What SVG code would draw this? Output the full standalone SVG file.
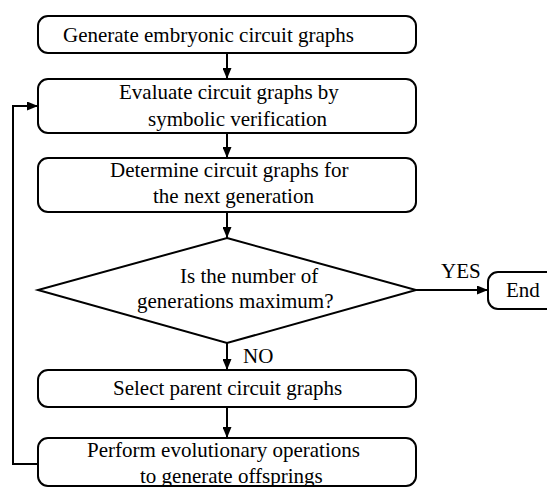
<svg xmlns="http://www.w3.org/2000/svg" width="547" height="487" viewBox="0 0 547 487">
<style>
.box{fill:#fff;stroke:#000;stroke-width:2}
.t{font-family:"Liberation Serif","Times New Roman",serif;font-size:21px;fill:#000}
.c{fill:none;stroke:#000;stroke-width:2}
</style>
<defs>
<marker id="ah" markerWidth="11" markerHeight="9" refX="11" refY="4.5" orient="auto" markerUnits="userSpaceOnUse">
<path d="M0,0 L11,4.5 L0,9 Z" fill="#000"/>
</marker>
</defs>
<rect width="547" height="487" fill="#fff"/>
<g id="connectors">
<line class="c" x1="227" y1="53" x2="227" y2="79" marker-end="url(#ah)"/>
<line class="c" x1="227" y1="133" x2="227" y2="158" marker-end="url(#ah)"/>
<line class="c" x1="227" y1="212" x2="227" y2="238" marker-end="url(#ah)"/>
<line class="c" x1="227" y1="343" x2="227" y2="370" marker-end="url(#ah)"/>
<line class="c" x1="227" y1="407" x2="227" y2="438" marker-end="url(#ah)"/>
<line class="c" x1="416" y1="290" x2="488" y2="290" marker-end="url(#ah)"/>
<polyline class="c" points="38,464 13,464 13,106 38,106" marker-end="url(#ah)"/>
<text class="t" x="441" y="278">YES</text>
<text class="t" x="243" y="363">NO</text>
</g>
<g id="n1">
<rect class="box" x="38" y="16" width="378" height="37" rx="10"/>
<text class="t" x="63" y="42">Generate embryonic circuit graphs</text>
</g>
<g id="n2">
<rect class="box" x="38" y="79" width="378" height="54" rx="10"/>
<text class="t" x="119" y="99">Evaluate circuit graphs by</text>
<text class="t" x="148" y="126">symbolic verification</text>
</g>
<g id="n3">
<rect class="box" x="38" y="158" width="378" height="54" rx="10"/>
<text class="t" x="110" y="177">Determine circuit graphs for</text>
<text class="t" x="153" y="203">the next generation</text>
</g>
<g id="n4">
<polygon class="box" points="227,238 416,290 227,343 38,290"/>
<text class="t" x="180" y="283">Is the number of</text>
<text class="t" x="137" y="308">generations maximum?</text>
</g>
<g id="n5">
<rect class="box" x="488" y="272" width="70" height="37" rx="10"/>
<text class="t" x="506" y="297">End</text>
</g>
<g id="n6">
<rect class="box" x="38" y="370" width="378" height="37" rx="10"/>
<text class="t" x="113" y="395">Select parent circuit graphs</text>
</g>
<g id="n7">
<rect class="box" x="38" y="438" width="378" height="48" rx="10"/>
<text class="t" x="87" y="457">Perform evolutionary operations</text>
<text class="t" x="140" y="483">to generate offsprings</text>
</g>
</svg>
